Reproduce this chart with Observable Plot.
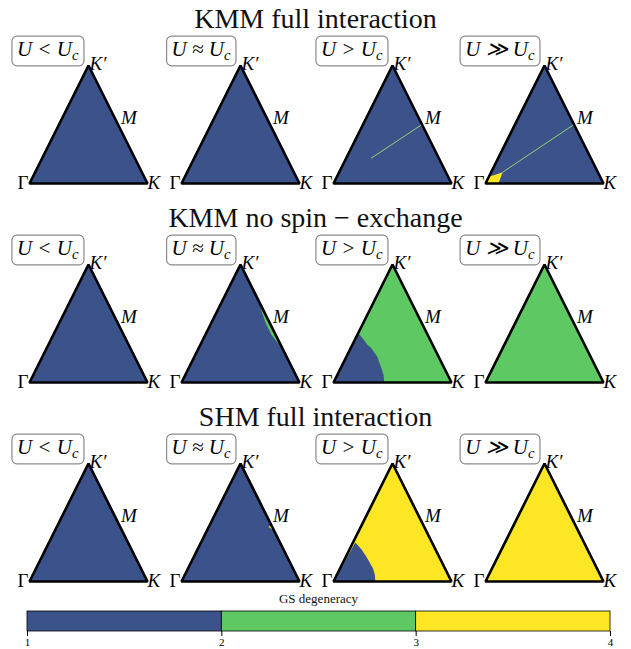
<!DOCTYPE html>
<html>
<head>
<meta charset="utf-8">
<script src="https://cdn.jsdelivr.net/npm/d3@7"></script>
<script src="https://cdn.jsdelivr.net/npm/@observablehq/plot@0.6"></script>
<style>
  html, body { margin: 0; padding: 0; background: #fff; }
  #root { width: 631px; }
  .title { height: 33px; box-sizing: border-box; padding-top: 5px; font-family: "Liberation Serif", "DejaVu Serif", serif; font-size: 28px; line-height: 28px; text-align: center; color: #111; white-space: nowrap; }
  .cbcap { height: 15px; font-family: "Liberation Serif", "DejaVu Serif", serif; font-size: 13px; line-height: 15px; text-align: center; color: #111; padding-left: 6px; box-sizing: border-box; }
  svg { display: block; }
</style>
</head>
<body>
<div id="root"></div>
<script>
// ---------------- data ----------------
const rowTitles = ["KMM full interaction", "KMM no spin \u2212 exchange", "SHM full interaction"];
const regimeLabels = ["U < U_c", "U \u2248 U_c", "U > U_c", "U \u226B U_c"];
// high-symmetry points of the irreducible wedge (normalised coordinates)
const bzPoints = [
  {name: "\u0393", x: 0, y: 0},
  {name: "K", x: 1, y: 0},
  {name: "K\u2032", x: 0.5, y: 1},
  {name: "M", x: 0.75, y: 0.5}
];
const wedge = ["\u0393", "K", "K\u2032"];
// ground-state degeneracy of the bulk of each panel [row][column]
const baseDegeneracy = [
  [1, 1, 1, 1],
  [1, 1, 2, 2],
  [1, 1, 4, 4]
];
// regions with a different degeneracy
const patches = [
  {row: 0, col: 3, deg: 4, pts: [[0, 0], [0.11, 0], [0.145, 0.095], [0.07, 0.07], [0.03, 0.06]]},
  {row: 1, col: 1, deg: 2, pts: [[0.655, 0.69], [0.70, 0.60], [0.75, 0.50], [0.80, 0.40], [0.85, 0.30], [0.82, 0.33], [0.765, 0.40], [0.715, 0.50], [0.68, 0.60]]},
  {row: 1, col: 2, deg: 1, pts: [[0, 0], [0.43, 0], [0.425, 0.06], [0.41, 0.11], [0.37, 0.22], [0.32, 0.29], [0.286, 0.322], [0.25, 0.37], [0.21, 0.42]]},
  {row: 2, col: 1, deg: 4, pts: [[0.76, 0.48], [0.785, 0.43], [0.738, 0.462]]},
  {row: 2, col: 2, deg: 1, pts: [[0, 0], [0.355, 0], [0.35, 0.06], [0.335, 0.11], [0.285, 0.20], [0.235, 0.275], [0.185, 0.33]]}
];
// thin degenerate lines
const gapLines = [
  {row: 0, col: 2, from: [0.75, 0.5], to: [0.32, 0.215]},
  {row: 0, col: 3, from: [0.75, 0.5], to: [0.145, 0.095]}
];
const colorbarTicks = [1, 2, 3, 4];
const degColors = ["#3b528b", "#5ec962", "#fde725"];
const lineColor = "#93d272";

// ---------------- drawing ----------------
const P = Object.fromEntries(bzPoints.map(d => [d.name, d]));
const cols = d3.range(regimeLabels.length);
const color = {type: "threshold", domain: [2, 3], range: degColors};
const FONT = "'Liberation Serif', 'DejaVu Serif', serif";
const root = document.getElementById("root");

function rowPlot(r, svgHeight, marginBottom) {
  const bg = cols.flatMap(c => wedge.map(n => ({col: c, id: "bg" + c, deg: baseDegeneracy[r][c], x: P[n].x, y: P[n].y})));
  const pt = patches.filter(p => p.row === r).flatMap((p, i) => p.pts.map(([x, y]) => ({col: p.col, id: "p" + i, deg: p.deg, x, y})));
  const ln = gapLines.filter(l => l.row === r).flatMap((l, i) => [l.from, l.to].map(([x, y]) => ({col: l.col, id: "l" + i, x, y})));
  const outline = cols.flatMap(c => wedge.map(n => ({col: c, x: P[n].x, y: P[n].y})));
  const lab = name => cols.map(c => ({col: c, text: name, x: P[name].x, y: P[name].y}));
  const regime = cols.map(c => ({col: c, text: regimeLabels[c], x: P["K\u2032"].x, y: P["K\u2032"].y}));
  return Plot.plot({
    width: 631, height: svgHeight,
    marginTop: 32, marginBottom, marginLeft: 28, marginRight: 26,
    x: {domain: [0, 1], axis: null},
    y: {domain: [0, 1], axis: null},
    fx: {domain: cols, axis: null, paddingInner: 0.2207, paddingOuter: 0},
    color,
    style: {fontFamily: FONT, fontSize: "19px", background: "white", color: "black"},
    marks: [
      Plot.line(bg, {x: "x", y: "y", z: "id", fx: "col", fill: "deg", stroke: "none", curve: "linear-closed"}),
      Plot.line(pt, {x: "x", y: "y", z: "id", fx: "col", fill: "deg", stroke: "none", curve: "linear-closed"}),
      Plot.line(ln, {x: "x", y: "y", z: "id", fx: "col", stroke: lineColor, strokeWidth: 1}),
      Plot.line(outline, {x: "x", y: "y", z: "col", fx: "col", stroke: "black", strokeWidth: 2.6, strokeLinejoin: "miter", curve: "linear-closed"}),
      Plot.text(lab("K\u2032"), {x: "x", y: "y", text: "text", fx: "col", textAnchor: "start", dx: 1, dy: -2, fontSize: 19, fontStyle: "italic"}),
      Plot.text(lab("M"), {x: "x", y: "y", text: "text", fx: "col", textAnchor: "start", dx: 3, dy: -7, fontSize: 19, fontStyle: "italic"}),
      Plot.text(lab("\u0393"), {x: "x", y: "y", text: "text", fx: "col", textAnchor: "end", dx: -1, dy: -1, fontSize: 19}),
      Plot.text(lab("K"), {x: "x", y: "y", text: "text", fx: "col", textAnchor: "start", dx: 0, dy: -1, fontSize: 19, fontStyle: "italic"}),
      Plot.text(regime, {x: "x", y: "y", text: "text", fx: "col", textAnchor: "end", dx: -10, dy: -16, fontSize: 21, fontStyle: "italic", ariaDescription: "regime"})
    ]
  });
}

function boxRegimes(svg) {
  const texts = Array.from(svg.querySelectorAll("text")).filter(t => /_/.test(t.textContent));
  texts.forEach(node => {
    const el = d3.select(node);
    const s = el.text();
    const [main, sub] = s.split("_");
    el.text(null);
    el.append("tspan").text(main);
    if (sub) el.append("tspan").attr("font-size", "0.7em").attr("dy", "0.25em").text(sub);
    const b = node.getBBox();
    const rect = document.createElementNS("http://www.w3.org/2000/svg", "rect");
    node.parentNode.insertBefore(rect, node);
    d3.select(rect)
      .attr("x", b.x - 5).attr("y", b.y - 1).attr("width", b.width + 10).attr("height", b.height + 4)
      .attr("rx", 5).attr("ry", 5)
      .attr("fill", "white").attr("stroke", "#8a8a8a").attr("stroke-width", 1.2);
    if (el.attr("transform")) d3.select(rect).attr("transform", el.attr("transform"));
  });
}

rowTitles.forEach((t, r) => {
  const title = document.createElement("div");
  title.className = "title";
  title.textContent = t;
  root.appendChild(title);
  const last = r === rowTitles.length - 1;
  const svg = rowPlot(r, last ? 160 : 166, last ? 10 : 16);
  root.appendChild(svg);
  boxRegimes(svg);
});

const cap = document.createElement("div");
cap.className = "cbcap";
cap.textContent = "GS degeneracy";
root.appendChild(cap);

const bins = colorbarTicks.slice(0, -1).map((lo, i) => ({lo, hi: colorbarTicks[i + 1]}));
const cb = Plot.plot({
  width: 631, height: 43,
  marginTop: 5, marginBottom: 18, marginLeft: 27, marginRight: 21,
  x: {domain: [colorbarTicks[0], colorbarTicks[colorbarTicks.length - 1]], label: null},
  color,
  style: {fontFamily: FONT, fontSize: "11px", background: "white", color: "black"},
  marks: [
    Plot.rect(bins, {x1: "lo", x2: "hi", fill: "lo", stroke: "black", strokeWidth: 0.8}),
    Plot.axisX(colorbarTicks, {tickSize: 5, tickPadding: 2, tickFormat: d => String(d), fontSize: 11})
  ]
});
root.appendChild(cb);
</script>
</body>
</html>
